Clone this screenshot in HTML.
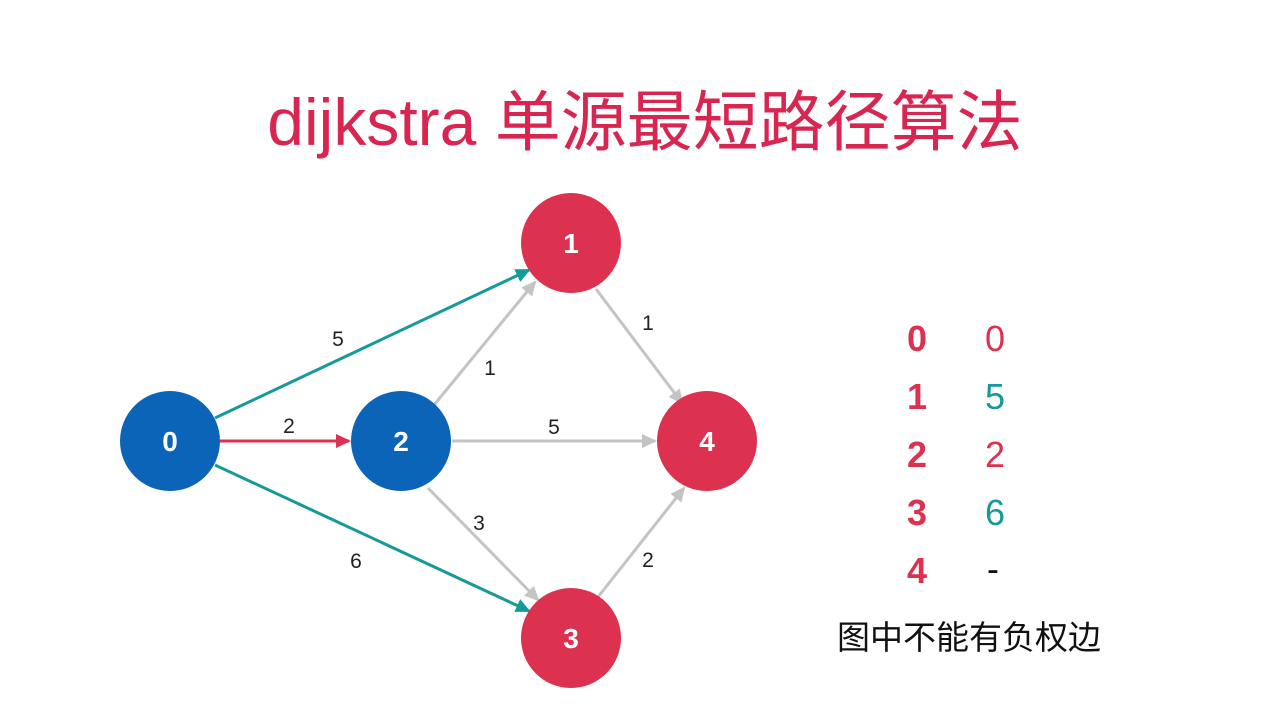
<!DOCTYPE html>
<html><head><meta charset="utf-8"><style>
html,body{margin:0;padding:0;background:#fff;}
body{width:1280px;height:720px;overflow:hidden;position:relative;font-family:"Liberation Sans","Noto Sans CJK SC",sans-serif;}
</style></head><body>
<svg width="1280" height="720" viewBox="0 0 1280 720" xmlns="http://www.w3.org/2000/svg" style="position:absolute;left:0;top:0">
<defs>
<marker id="aT" markerWidth="16" markerHeight="14" refX="13" refY="7" orient="auto" markerUnits="userSpaceOnUse"><path d="M0,0 L15,7 L0,14 z" fill="#169a99"/></marker>
<marker id="aR" markerWidth="16" markerHeight="14" refX="13" refY="7" orient="auto" markerUnits="userSpaceOnUse"><path d="M0,0 L15,7 L0,14 z" fill="#dc3250"/></marker>
<marker id="aG" markerWidth="16" markerHeight="14" refX="13" refY="7" orient="auto" markerUnits="userSpaceOnUse"><path d="M0,0 L15,7 L0,14 z" fill="#c4c4c4"/></marker>
</defs>
<text x="645" y="145" text-anchor="middle" font-size="66" fill="#d82650" font-family="Liberation Sans,Noto Sans CJK SC,sans-serif">dijkstra 单源最短路径算法</text>
<g stroke-width="3" fill="none">
<line x1="215" y1="418" x2="529" y2="270" stroke="#169a99" marker-end="url(#aT)"/>
<line x1="220" y1="441" x2="349" y2="441" stroke="#dc3250" marker-end="url(#aR)"/>
<line x1="215" y1="465" x2="529" y2="611" stroke="#169a99" marker-end="url(#aT)"/>
<line x1="434" y1="405" x2="535" y2="282" stroke="#c4c4c4" marker-end="url(#aG)"/>
<line x1="452" y1="441" x2="655" y2="441" stroke="#c4c4c4" marker-end="url(#aG)"/>
<line x1="428" y1="488" x2="538" y2="600" stroke="#c4c4c4" marker-end="url(#aG)"/>
<line x1="596" y1="289" x2="682" y2="403" stroke="#c4c4c4" marker-end="url(#aG)"/>
<line x1="598" y1="597" x2="684" y2="488" stroke="#c4c4c4" marker-end="url(#aG)"/>
</g>
<g font-size="28" font-weight="bold" fill="#fff" text-anchor="middle">
<circle cx="170" cy="441" r="50" fill="#0b64b8"/><text x="170" y="451">0</text>
<circle cx="401" cy="441" r="50" fill="#0b64b8"/><text x="401" y="451">2</text>
<circle cx="571" cy="243" r="50" fill="#dc3250"/><text x="571" y="253">1</text>
<circle cx="707" cy="441" r="50" fill="#dc3250"/><text x="707" y="451">4</text>
<circle cx="571" cy="638" r="50" fill="#dc3250"/><text x="571" y="648">3</text>
</g>
<g font-size="21" fill="#222" text-anchor="middle">
<text x="338" y="346">5</text><text x="289" y="433">2</text><text x="356" y="568">6</text>
<text x="490" y="375">1</text><text x="554" y="434">5</text><text x="479" y="530">3</text>
<text x="648" y="330">1</text><text x="648" y="567">2</text>
</g>
<g font-size="36" font-weight="bold" fill="#dc3250" text-anchor="middle">
<text x="917" y="351">0</text><text x="917" y="409">1</text><text x="917" y="467">2</text><text x="917" y="525">3</text><text x="917" y="583">4</text>
</g>
<g font-size="36" text-anchor="middle">
<text x="995" y="351" fill="#dc3250">0</text><text x="995" y="409" fill="#169a99">5</text><text x="995" y="467" fill="#dc3250">2</text><text x="995" y="525" fill="#169a99">6</text><text x="993" y="581" fill="#111">-</text>
</g>
<text x="969" y="649" text-anchor="middle" font-size="33" fill="#111" font-family="Noto Sans CJK SC,sans-serif">图中不能有负权边</text>
</svg>
</body></html>
